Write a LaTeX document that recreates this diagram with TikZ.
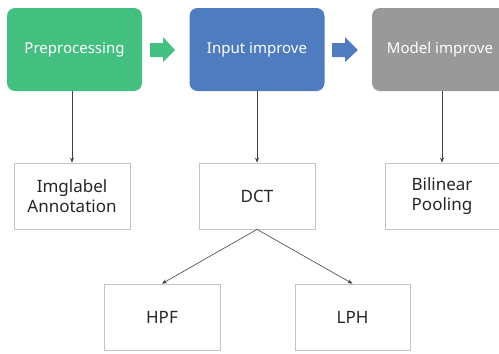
\documentclass[tikz,border=0pt]{standalone}
\usepackage{fontspec}
\setmainfont{Noto Sans}
\usetikzlibrary{arrows.meta}
\definecolor{cgreen}{HTML}{43C07F}
\definecolor{cblue}{HTML}{4F7BBF}
\definecolor{cgray}{HTML}{999999}
\definecolor{cborder}{HTML}{C4C4C4}
\definecolor{cline}{HTML}{404040}
\begin{document}
\begin{tikzpicture}[x=1pt,y=-1pt,
  topbox/.style={rounded corners=8pt, minimum width=135pt, minimum height=83pt, inner sep=0pt, text=white, font=\fontsize{15}{17}\selectfont},
  subbox/.style={draw=cborder, line width=0.8pt, fill=white, minimum width=116pt, minimum height=66pt, inner sep=0pt, align=center, text=black!85, font=\fontsize{17}{20}\selectfont},
  conn/.style={draw=cline, line width=0.6pt, -{Stealth[length=5pt,width=4pt]}}
]
\useasboundingbox (0,0) rectangle (499,354);
\begin{scope}
\clip (0,0) rectangle (499,354);
\node[topbox, fill=cgreen] (pre) at (74.5,49.5) {Preprocessing};
\node[topbox, fill=cblue] (inp) at (257,49.5) {Input improve};
\node[topbox, fill=cgray, minimum width=136pt] (mod) at (440,49.5) {Model improve};

\node[subbox] (img) at (72,196) {Imglabel\\Annotation};
\node[subbox] (dct) at (257,196) {DCT};
\node[subbox, minimum width=114pt] (bil) at (442,196) {Bilinear\\Pooling};
\node[subbox] (hpf) at (162,317) {HPF};
\node[subbox, minimum width=115pt] (lph) at (352.5,317) {LPH};
\end{scope}

\fill[cgreen] (150,43) -- (163,43) -- (163,37) -- (175,50) -- (163,62) -- (163,57) -- (150,57) -- cycle;
\fill[cblue] (332,43) -- (345,43) -- (345,37) -- (358,50) -- (345,62) -- (345,57) -- (332,57) -- cycle;

\draw[conn] (pre.south -| img.north) -- (img.north);
\draw[conn] (inp.south) -- (dct.north);
\draw[conn] (mod.south -| bil.north) -- (bil.north);
\draw[conn] (dct.south) -- (hpf.north);
\draw[conn] (dct.south) -- (lph.north);
\end{tikzpicture}
\end{document}
